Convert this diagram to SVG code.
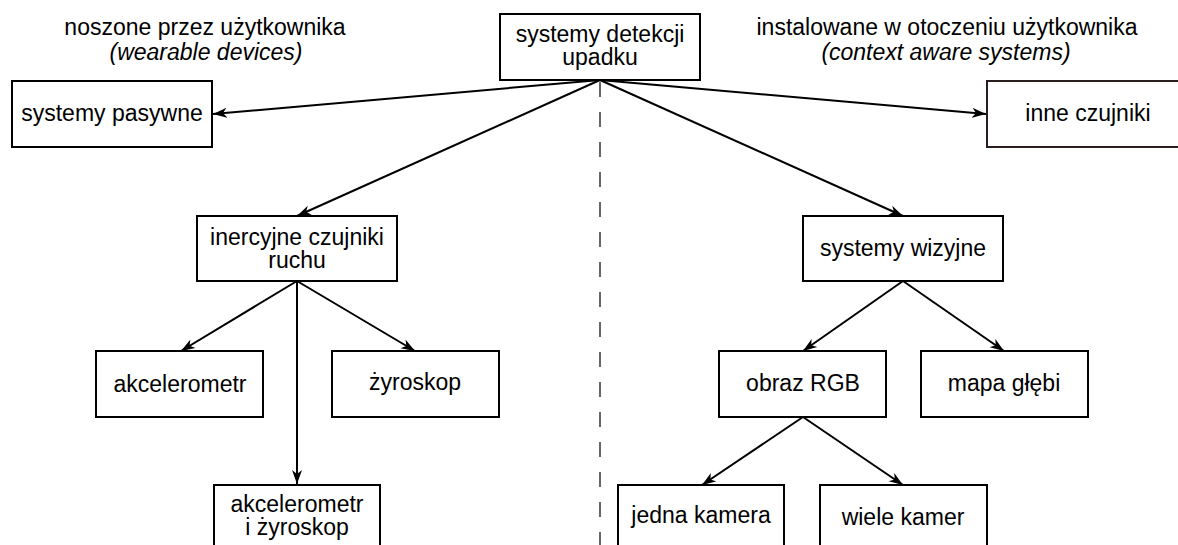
<svg xmlns="http://www.w3.org/2000/svg" width="1178" height="545" viewBox="0 0 1178 545">
<defs>
<marker id="ah" markerWidth="16" markerHeight="12" refX="14" refY="5.5" orient="auto" markerUnits="userSpaceOnUse">
<path d="M0,0.5 L14,5.5 L0,10.5 L4,5.5 z" fill="#000"/>
</marker>
<style>
.box{fill:#fff;stroke:#000;stroke-width:2}
.t{font-family:"Liberation Sans",Arial,sans-serif;font-size:23px;fill:#000;text-anchor:middle}
.i{font-style:italic}
.c{fill:none;stroke:#000;stroke-width:2;marker-end:url(#ah)}
</style>
</defs>
<rect width="1178" height="545" fill="#fff"/>
<line x1="600" y1="82" x2="600" y2="545" stroke="#666" stroke-width="2" stroke-dasharray="15 15"/>
<g id="headings">
<text class="t" x="205" y="35">noszone przez użytkownika<tspan class="i" x="206" dy="25">(wearable devices)</tspan></text>
<text class="t" x="947" y="35">instalowane w otoczeniu użytkownika<tspan class="i" x="946" dy="25">(context aware systems)</tspan></text>
</g>
<g id="connectors">
<line class="c" x1="600" y1="80" x2="213" y2="114"/>
<line class="c" x1="600" y1="80" x2="986" y2="114"/>
<line class="c" x1="600" y1="80" x2="297" y2="216"/>
<line class="c" x1="600" y1="80" x2="903" y2="216"/>
<line class="c" x1="297" y1="281" x2="181" y2="351"/>
<line class="c" x1="297" y1="281" x2="415" y2="351"/>
<line class="c" x1="297" y1="281" x2="297" y2="484"/>
<line class="c" x1="903" y1="281" x2="803" y2="351"/>
<line class="c" x1="903" y1="281" x2="1004" y2="351"/>
<line class="c" x1="803" y1="417" x2="702" y2="485"/>
<line class="c" x1="803" y1="417" x2="903" y2="485"/>
</g>
<g id="root">
<rect class="box" x="500" y="14" width="200" height="66"/>
<text class="t" x="600" y="42">systemy detekcji<tspan x="600" dy="23">upadku</tspan></text>
</g>
<g id="pasywne">
<rect class="box" x="12" y="81" width="200" height="66"/>
<text class="t" x="112" y="121">systemy pasywne</text>
</g>
<g id="inne">
<rect class="box" x="987" y="81" width="200" height="66" style="stroke:#2b1d1d"/>
<text class="t" x="1088" y="121">inne czujniki</text>
</g>
<g id="inercyjne">
<rect class="box" x="197" y="216" width="200" height="65"/>
<text class="t" x="297" y="245">inercyjne czujniki<tspan x="297" dy="23">ruchu</tspan></text>
</g>
<g id="wizyjne">
<rect class="box" x="803" y="216" width="200" height="65"/>
<text class="t" x="903" y="256">systemy wizyjne</text>
</g>
<g id="akcelerometr">
<rect class="box" x="96" y="351" width="167" height="66"/>
<text class="t" x="180" y="392">akcelerometr</text>
</g>
<g id="zyroskop">
<rect class="box" x="332" y="351" width="167" height="66"/>
<text class="t" x="415" y="390">żyroskop</text>
</g>
<g id="obraz">
<rect class="box" x="719" y="351" width="167" height="66"/>
<text class="t" x="803" y="391">obraz RGB</text>
</g>
<g id="mapa">
<rect class="box" x="921" y="351" width="167" height="66"/>
<text class="t" x="1004" y="391">mapa głębi</text>
</g>
<g id="akc_zyr">
<rect class="box" x="214" y="485" width="166" height="70"/>
<text class="t" x="297" y="512">akcelerometr<tspan x="297" dy="23">i żyroskop</tspan></text>
</g>
<g id="jedna">
<rect class="box" x="618" y="485" width="166" height="70"/>
<text class="t" x="701" y="523">jedna kamera</text>
</g>
<g id="wiele">
<rect class="box" x="820" y="485" width="167" height="70"/>
<text class="t" x="903" y="525">wiele kamer</text>
</g>
</svg>
